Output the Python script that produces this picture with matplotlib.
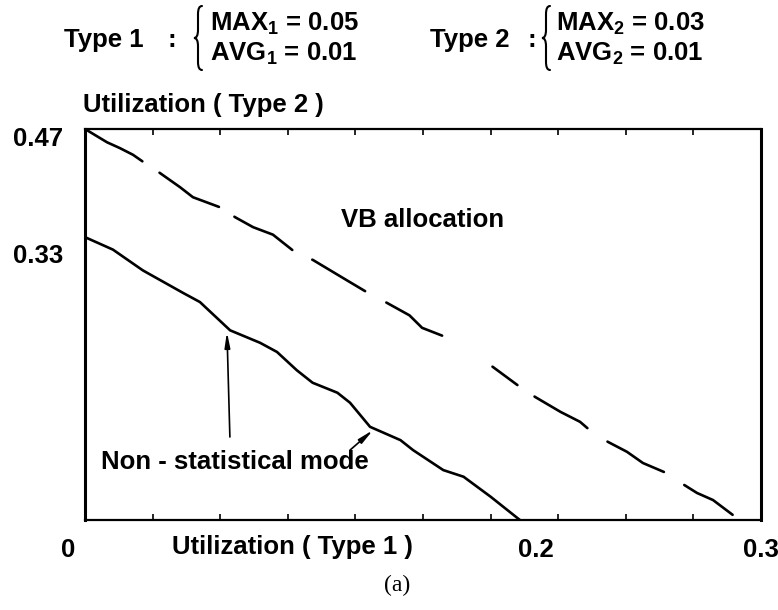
import matplotlib
matplotlib.use("Agg")
import matplotlib.pyplot as plt
import numpy as np
from matplotlib.path import Path
from matplotlib.patches import PathPatch
from matplotlib.transforms import ScaledTranslation

plt.rcParams["font.family"] = ["Liberation Sans", "DejaVu Sans"]
plt.rcParams["font.weight"] = "bold"
plt.rcParams["mathtext.fontset"] = "custom"
plt.rcParams["mathtext.rm"] = "Liberation Sans:bold"
plt.rcParams["mathtext.it"] = "Liberation Sans:bold"
plt.rcParams["mathtext.bf"] = "Liberation Sans:bold"

# ---- data -------------------------------------------------------------
# Non-statistical mode boundary (Type 1 utilization vs Type 2 utilization)
nonstat_x = [0.0, 0.0124, 0.0257, 0.0435, 0.051, 0.0644, 0.0777, 0.0852,
             0.094, 0.101, 0.112, 0.1176, 0.1265, 0.140, 0.1456, 0.159,
             0.168, 0.180, 0.193]
nonstat_y = [0.34, 0.325, 0.300, 0.273, 0.262, 0.228, 0.213, 0.202,
             0.180, 0.165, 0.153, 0.141, 0.112, 0.096, 0.084, 0.060,
             0.052, 0.028, 0.0]

# VB allocation boundary
vb_x = [0.0, 0.0098, 0.0155, 0.0213, 0.0266, 0.0333, 0.0422, 0.0479,
        0.0608, 0.0666, 0.0746, 0.0834, 0.0932, 0.1012, 0.1163, 0.1256,
        0.134, 0.144, 0.1496, 0.160, 0.181, 0.193, 0.1997, 0.211, 0.2197,
        0.224, 0.232, 0.2405, 0.2476, 0.258, 0.266, 0.2716, 0.2787, 0.2885]
vb_y = [0.47, 0.454, 0.447, 0.439, 0.429, 0.417, 0.400, 0.388, 0.375,
        0.364, 0.352, 0.343, 0.322, 0.3125, 0.288, 0.273, 0.261, 0.246,
        0.231, 0.220, 0.184, 0.160, 0.148, 0.130, 0.118, 0.108, 0.094,
        0.082, 0.0685, 0.0565, 0.042, 0.0325, 0.024, 0.004]

x_ticks = [0.0, 0.2, 0.3]
x_tick_labels = ["0", "0.2", "0.3"]
y_ticks = [0.47, 0.33]
y_tick_labels = ["0.47", "0.33"]

type1_params = ["MAX$_1$ = 0.05", "AVG$_1$ = 0.01"]
type2_params = ["MAX$_2$ = 0.03", "AVG$_2$ = 0.01"]

# ---- styling ----------------------------------------------------------
W, H, DPI = 778, 610, 100
LW = 1.9                      # curve width in points
LW_PX = LW * DPI / 72
FS = 18.5
# irregular hand-drawn dash rhythm (on, off, on, off ... in pixels)
DASH_PX = [68.6, 18, 71.8, 15.8, 69.9, 19.7, 64.1, 21.5, 68.3, 56.6,
           33.6, 18, 64.4, 21.6, 66.9, 21.6, 59.7, 60]

fig = plt.figure(figsize=(W / DPI, H / DPI), dpi=DPI)
ax = fig.add_axes([85 / W, 1 - 520 / H, (761 - 85) / W, (520 - 129) / H])

ax.plot(nonstat_x, nonstat_y, color="black", lw=LW,
        solid_capstyle="round", solid_joinstyle="round")

dash_seq = []
for i, v in enumerate(DASH_PX):
    if i % 2 == 0:
        dash_seq.append(max(v - LW_PX, 1) * 72 / DPI / LW)
    else:
        dash_seq.append((v + LW_PX) * 72 / DPI / LW)
ax.plot(vb_x, vb_y, color="black", lw=LW, dashes=dash_seq,
        dash_capstyle="round", dash_joinstyle="round")

ax.set_xlim(0, 0.3)
ax.set_ylim(0, 0.47)

for side in ["left", "right"]:
    ax.spines[side].set_linewidth(2.2)
for side in ["top", "bottom"]:
    ax.spines[side].set_linewidth(1.6)

ax.set_xticks(x_ticks)
ax.set_xticklabels(x_tick_labels, fontsize=FS, fontweight="bold")
ax.set_xticks(np.arange(1, 10) * 0.03, minor=True)
ax.tick_params(axis="x", which="major", length=0, pad=13)
ax.tick_params(axis="x", which="minor", direction="in", length=4,
               width=1.2, top=True, bottom=True)
ax.set_yticks(y_ticks)
ax.set_yticklabels(y_tick_labels, fontsize=FS, fontweight="bold")
ax.tick_params(axis="y", which="major", length=0, pad=16)
for lbl in ax.get_yticklabels():
    lbl.set_transform(lbl.get_transform() +
                      ScaledTranslation(0, -8 / DPI, fig.dpi_scale_trans))
zero_lbl = ax.get_xticklabels()[0]
zero_lbl.set_transform(zero_lbl.get_transform() +
                       ScaledTranslation(-17 / DPI, 0, fig.dpi_scale_trans))

# axis titles
fig.text(83 / W, 1 - 105 / H, "Utilization ( Type 2 )", fontsize=FS,
         fontweight="bold", ha="left", va="center")
fig.text(292 / W, 1 - 547 / H, "Utilization ( Type 1 )", fontsize=FS,
         fontweight="bold", ha="center", va="center")

# curve labels and pointers
ax.text(0.1496, 0.3606, "VB allocation", fontsize=FS, fontweight="bold",
        ha="center", va="center")
ax.text(0.0666, 0.0697, "Non - statistical mode", fontsize=FS,
        fontweight="bold", ha="center", va="center")
arrow_kw = dict(arrowstyle="-|>,head_length=0.9,head_width=0.16",
                color="black", lw=1.2, shrinkA=0, shrinkB=0)
ax.annotate("", xy=(0.063, 0.226), xytext=(0.0643, 0.0998),
            arrowprops=arrow_kw)
ax.annotate("", xy=(0.1278, 0.108), xytext=(0.1176, 0.084),
            arrowprops=arrow_kw)

fig.text(397 / W, 1 - 585 / H, "(a)", fontsize=17,
         family=["Liberation Serif", "DejaVu Serif"], fontweight="normal",
         ha="center", va="center")


# ---- parameter header -------------------------------------------------
def brace(x, y0, y1, w):
    """Left curly brace in figure pixels (y measured from the top)."""
    ym = (y0 + y1) / 2
    pts = [(x + w, y0), (x, y0), (x, y0 + 2 * w),
           (x, ym - 2 * w), (x, ym), (x - w, ym),
           (x, ym), (x, ym + 2 * w),
           (x, y1 - 2 * w), (x, y1), (x + w, y1)]
    codes = [Path.MOVETO, Path.CURVE3, Path.CURVE3,
             Path.LINETO, Path.CURVE3, Path.CURVE3,
             Path.CURVE3, Path.CURVE3,
             Path.LINETO, Path.CURVE3, Path.CURVE3]
    pts = [(px / W, 1 - py / H) for px, py in pts]
    fig.add_artist(PathPatch(Path(pts, codes), fill=False, lw=1.5,
                             color="black", transform=fig.transFigure,
                             capstyle="round"))


def header(x_type, x_colon, x_brace, x_par, label, params):
    fig.text(x_type / W, 1 - 40 / H, label, fontsize=FS, fontweight="bold",
             ha="left", va="center")
    fig.text(x_colon / W, 1 - 40 / H, ":", fontsize=FS, fontweight="bold",
             ha="center", va="center")
    brace(x_brace, 6, 70, 4)
    fig.text(x_par / W, 1 - 24 / H, params[0], fontsize=FS,
             fontweight="bold", ha="left", va="center")
    fig.text(x_par / W, 1 - 54 / H, params[1], fontsize=FS,
             fontweight="bold", ha="left", va="center")


header(64, 172, 198, 210, "Type 1", type1_params)
header(430, 532, 546, 556, "Type 2", type2_params)

fig.savefig("out.png", dpi=DPI)
